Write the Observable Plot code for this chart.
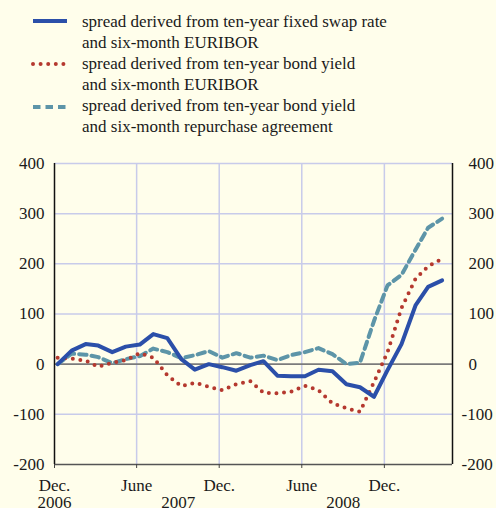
<!DOCTYPE html>
<html><head><meta charset="utf-8">
<script src="https://cdn.jsdelivr.net/npm/d3@7"></script>
<script src="https://cdn.jsdelivr.net/npm/@observablehq/plot@0.6"></script>
<style>
html,body{margin:0;padding:0;background:#fffeeb;}
#legend{height:129px;padding-top:11px;}
.item{margin-left:82px;font-size:17px;line-height:21px;color:#1a1a1a;}
#samples{position:absolute;left:0;top:0;}
</style></head><body>
<svg id="samples" width="80" height="140"></svg>
<div id="legend">
<div class="item" style="font-family:'Liberation Serif'">spread derived from ten-year fixed swap rate<br>and six-month EURIBOR</div>
<div class="item" style="font-family:'Liberation Serif'">spread derived from ten-year bond yield<br>and six-month EURIBOR</div>
<div class="item" style="font-family:'Liberation Serif'">spread derived from ten-year bond yield<br>and six-month repurchase agreement</div>
</div>
<div id="chart"></div>
<script>
// ---- data ----
const months = ["2006-12","2007-01","2007-02","2007-03","2007-04","2007-05","2007-06","2007-07","2007-08","2007-09","2007-10","2007-11","2007-12",
  "2008-01","2008-02","2008-03","2008-04","2008-05","2008-06","2008-07","2008-08","2008-09","2008-10","2008-11","2008-12",
  "2009-01","2009-02","2009-03","2009-04"];
const swapEuribor = [0, 27, 40, 37, 24, 35, 39, 60, 52, 10, -11, 0, -6, -13, -2, 6, -23, -24, -24, -11, -14, -40, -46, -65, -12, 40, 117, 154, 167];
const bondEuribor = [13, 11, 7, -5, 3, 8, 22, 13, -22, -44, -37, -45, -52, -40, -34, -57, -58, -55, -43, -52, -78, -88, -95, -36, 24, 112, 170, 195, 210];
const bondRepo = [0, 21, 19, 14, 2, 10, 16, 31, 24, 12, 18, 26, 13, 22, 13, 17, 8, 18, 24, 32, 20, 0, 3, 86, 157, 178, 228, 272, 290];
const yTicks = [-200, -100, 0, 100, 200, 300, 400];
const xTickMonths = ["2006-12", "2007-06", "2007-12", "2008-06", "2008-12"];
const xTickLabels = ["Dec.", "June", "Dec.", "June", "Dec."];
const yearLabels = ["2006", "2007", "2008"];
const yearMonths = ["2006-12", "2007-09", "2008-09"];

// ---- styles ----
const BLUE = "#2b4fa9", RED = "#b5392f", TEAL = "#5d95a8", GRID = "#c8cbea", ZERO = "#7b7b7b";

const dataDate = s => { const [y, m] = s.split("-").map(Number); return new Date(Date.UTC(y, m - 1, 8)); };
const tickDate = s => { const [y, m] = s.split("-").map(Number); return new Date(Date.UTC(y, m - 1, 1)); };

const rows = [];
const keys = ["repo", "bond", "swap"];
const vals = {swap: swapEuribor, bond: bondEuribor, repo: bondRepo};
for (const k of keys) months.forEach((m, i) => rows.push({key: k, date: dataDate(m), v: vals[k][i]}));

const x0 = tickDate("2006-12"), x1 = tickDate("2009-05");
const tickDates = xTickMonths.map(tickDate);
const labelOf = new Map(tickDates.map((d, i) => [+d, xTickLabels[i]]));
const fmtY = d => String(d);

const chart = Plot.plot({
  width: 496, height: 368,
  marginTop: 23, marginBottom: 44, marginLeft: 54, marginRight: 44,
  style: {background: "transparent", fontSize: "17px", color: "#1a1a1a"},
  x: {type: "utc", domain: [x0, x1], axis: null},
  y: {domain: [-200, 400], axis: null},
  marks: [
    Plot.ruleY(yTicks.filter(d => d !== 0 && d !== -200), {stroke: GRID, strokeWidth: 1.5}),
    Plot.ruleX(tickDates.slice(1), {stroke: GRID, strokeWidth: 1.5}),
    Plot.ruleY([0], {stroke: ZERO, strokeWidth: 1.6}),
    Plot.line(rows.filter(d => d.key === "repo"), {x: "date", y: "v", stroke: TEAL, strokeWidth: 4, strokeDasharray: "7.5,5", strokeLinejoin: "round"}),
    Plot.line(rows.filter(d => d.key === "bond"), {x: "date", y: "v", stroke: RED, strokeWidth: 4, strokeDasharray: "0,7.6", strokeLinecap: "round", strokeLinejoin: "round"}),
    Plot.line(rows.filter(d => d.key === "swap"), {x: "date", y: "v", stroke: BLUE, strokeWidth: 4, strokeLinejoin: "round"}),
    Plot.ruleY([-200], {stroke: "#555", strokeWidth: 1.5}),
    Plot.ruleX([x0], {stroke: "#111", strokeWidth: 1.5, y1: -200, y2: 400}),
    Plot.ruleX([x1], {stroke: "#111", strokeWidth: 1.5, y1: -200, y2: 400}),
    Plot.axisY(yTicks, {anchor: "left", tickSize: 0, tickPadding: 10, fontSize: 17, label: null, tickFormat: fmtY}),
    Plot.axisY(yTicks.filter(d => d >= 0), {anchor: "right", tickSize: 0, tickPadding: 16, textAnchor: "start", fontSize: 17, label: null, tickFormat: fmtY}),
    Plot.axisY(yTicks.filter(d => d < 0), {anchor: "right", tickSize: 0, tickPadding: 9, textAnchor: "start", fontSize: 17, label: null, tickFormat: fmtY}),
    Plot.axisX(tickDates, {anchor: "bottom", tickSize: 4, tickPadding: 10, stroke: "#444", fontSize: 17, label: null, tickFormat: d => labelOf.get(+d)}),
    Plot.text(yearLabels, {x: yearMonths.map(tickDate), frameAnchor: "bottom", lineAnchor: "top", dy: 31.5, fontSize: 17, text: d => d})
  ]
});
chart.style.fontFamily = "'Liberation Serif'";
document.getElementById("chart").appendChild(chart);

// ---- legend samples ----
const lg = d3.select("#samples");
const sampleY = [21, 64, 107];
const styles = [
  {stroke: BLUE, dash: null, cap: "butt"},
  {stroke: RED, dash: "0,7.6", cap: "round"},
  {stroke: TEAL, dash: "7.5,5", cap: "butt"}
];
styles.forEach((s, i) => {
  lg.append("line").attr("x1", 33).attr("x2", 67).attr("y1", sampleY[i]).attr("y2", sampleY[i])
    .attr("stroke", s.stroke).attr("stroke-width", 4).attr("stroke-linecap", s.cap)
    .attr("stroke-dasharray", s.dash);
});
</script></body></html>
